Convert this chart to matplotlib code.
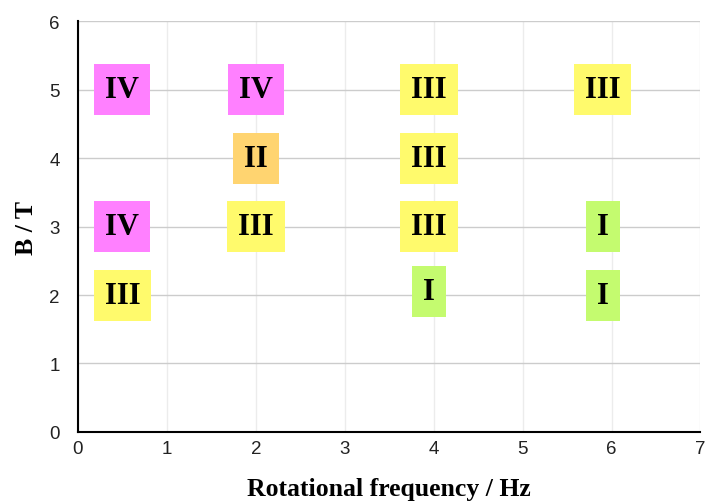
import matplotlib.pyplot as plt

# phase labels
freq = [0.5, 0.5, 0.5, 2.0, 2.0, 2.0, 3.95, 3.95, 3.95, 3.95, 5.9, 5.9, 5.9]
field = [5, 3, 2, 5, 4, 3, 5, 4, 3, 2.05, 5, 3, 2]
phase = ['IV', 'IV', 'III', 'IV', 'II', 'III', 'III', 'III', 'III', 'I', 'III', 'I', 'I']

phase_colors = {'I': '#c4fb6f', 'II': '#ffd470', 'III': '#fffa6c', 'IV': '#ff80ff'}

fig = plt.figure(figsize=(7.09, 5.02), dpi=100)
ax = fig.add_axes([0.110, 0.1375, 0.878, 0.8185])

ax.set_xlim(0, 7)
ax.set_ylim(0, 6)
ax.set_xticks(range(0, 8))
ax.set_yticks(range(0, 7))

# grid: darker horizontal, faint vertical
ax.grid(axis='y', color='#cccccc', linewidth=1)
ax.grid(axis='x', color='#ececec', linewidth=1)
ax.set_axisbelow(True)

for side in ['top', 'right']:
    ax.spines[side].set_visible(False)
ax.spines['left'].set_linewidth(1.5)
ax.spines['bottom'].set_linewidth(1.5)

ax.tick_params(axis='x', length=0, pad=6, labelsize=13.5)
ax.tick_params(axis='y', length=0, pad=13, labelsize=13.5)
for lab in ax.get_xticklabels() + ax.get_yticklabels():
    lab.set_fontfamily('Liberation Sans')
    lab.set_color('#222222')

for x, y, p in zip(freq, field, phase):
    ax.text(x, y, p, ha='center', va='center', fontsize=22, fontweight='bold',
            family='Liberation Serif', color='black',
            bbox=dict(boxstyle='square,pad=0.36', facecolor=phase_colors[p],
                      edgecolor='none'))

ax.set_xlabel('Rotational frequency / Hz', fontsize=18.5, fontweight='bold',
              family='Liberation Serif', labelpad=14)
ax.set_ylabel('B / T', fontsize=18.5, fontweight='bold',
              family='Liberation Serif', labelpad=8)

fig.savefig('out.png', dpi=100)
